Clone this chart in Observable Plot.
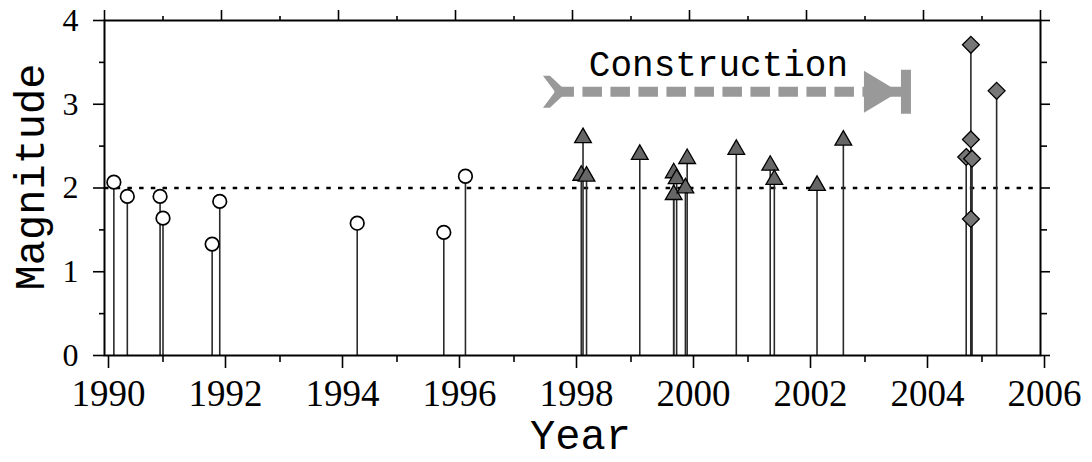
<!DOCTYPE html>
<html>
<head>
<meta charset="utf-8">
<script src="https://cdn.jsdelivr.net/npm/d3@7"></script>
<script src="https://cdn.jsdelivr.net/npm/@observablehq/plot@0.6"></script>
<style>
  html, body { margin: 0; padding: 0; background: white; }
  #chart svg { display: block; }
</style>
</head>
<body>
<div id="chart"></div>
<script>
// ---- data ----
const circleYears = [1990.16, 1990.39, 1990.95, 1991.00, 1991.84, 1991.97, 1994.32, 1995.80, 1996.17];
const circleMags  = [2.07, 1.90, 1.90, 1.64, 1.33, 1.84, 1.58, 1.47, 2.14];

const triangleYears = [1998.18, 1998.15, 1998.24, 1999.15, 1999.73, 1999.78, 1999.73, 1999.96, 1999.93, 2000.80, 2001.38, 2001.45, 2002.18, 2002.63];
const triangleMags  = [2.60, 2.15, 2.14, 2.40, 2.18, 2.11, 1.92, 2.35, 2.00, 2.46, 2.27, 2.10, 2.03, 2.57];

const diamondYears = [2004.81, 2005.25, 2004.81, 2004.73, 2004.83, 2004.81];
const diamondMags  = [3.71, 3.16, 2.58, 2.37, 2.35, 1.63];

const threshold = [2];
const constructionYears = [1997.7, 2003.7];   // start, end
const constructionLevel = [3.15];
const constructionLabel = ["Construction"];

const xDomain = [1990, 2006];
const yDomain = [0, 4];
const xLabelTicks = [1990, 1992, 1994, 1996, 1998, 2000, 2002, 2004, 2006];
const xMinorTicks = [1991, 1993, 1995, 1997, 1999, 2001, 2003, 2005];
const yLabelTicks = [0, 1, 2, 3, 4];
const yMinorTicks = [0.5, 1.5, 2.5, 3.5];
const xTitle = "Year";
const yTitle = "Magnitude";

// ---- build tables ----
const circles = circleYears.map((x, i) => ({x, m: circleMags[i]}));
const triangles = triangleYears.map((x, i) => ({x, m: triangleMags[i]}));
const diamonds = diamondYears.map((x, i) => ({x, m: diamondMags[i]}));
const allEvents = [...circles, ...triangles, ...diamonds];

// custom symbols for the construction arrow (drawn in pixel units, r = 1)
const chevron = {
  draw(ctx, size) {
    const k = Math.sqrt(size / Math.PI);
    ctx.moveTo(-12 * k, -16 * k);
    ctx.lineTo(-5 * k, -16 * k);
    ctx.lineTo(12 * k, 0);
    ctx.lineTo(-5 * k, 16 * k);
    ctx.lineTo(-12 * k, 16 * k);
    ctx.lineTo(0, 0);
    ctx.closePath();
  }
};
const arrowEnd = {
  draw(ctx, size) {
    const k = Math.sqrt(size / Math.PI);
    ctx.moveTo(-42 * k, -21 * k);
    ctx.lineTo(-7 * k, 0);
    ctx.lineTo(-42 * k, 21 * k);
    ctx.closePath();
    ctx.moveTo(-5 * k, -22 * k);
    ctx.lineTo(5 * k, -22 * k);
    ctx.lineTo(5 * k, 22 * k);
    ctx.lineTo(-5 * k, 22 * k);
    ctx.closePath();
  }
};

const serif = "'Liberation Serif', 'DejaVu Serif', serif";
const mono = "'Liberation Mono', 'DejaVu Sans Mono', monospace";
const blank = () => "";
const plain = d => String(d);

const chart = Plot.plot({
  width: 1092,
  height: 462,
  marginLeft: 104,
  marginRight: 52,
  marginTop: 20,
  marginBottom: 107,
  x: {domain: xDomain},
  y: {domain: yDomain},
  style: {background: "white", overflow: "visible"},
  marks: [
    // axes: bottom
    Plot.axisX({ticks: xLabelTicks, anchor: "bottom", tickSize: 13, tickPadding: 11, strokeWidth: 1.6,
      tickFormat: plain, fontSize: 37, fontFamily: serif, dx: 4, label: null}),
    Plot.axisX({ticks: xMinorTicks, anchor: "bottom", tickSize: 7, strokeWidth: 1.6, tickFormat: blank, label: null}),
    // axes: top
    Plot.axisX({ticks: xLabelTicks, anchor: "top", tickSize: 11, strokeWidth: 1.6, tickFormat: blank, label: null}),
    Plot.axisX({ticks: xMinorTicks, anchor: "top", tickSize: 5, strokeWidth: 1.6, tickFormat: blank, label: null}),
    // axes: left
    Plot.axisY({ticks: yLabelTicks, anchor: "left", tickSize: 11, tickPadding: 15, strokeWidth: 1.6,
      tickFormat: plain, fontSize: 32, fontFamily: serif, label: null}),
    Plot.axisY({ticks: yMinorTicks, anchor: "left", tickSize: 5, strokeWidth: 1.6, tickFormat: blank, label: null}),
    // axes: right
    Plot.axisY({ticks: yLabelTicks, anchor: "right", tickSize: 9, strokeWidth: 1.6, tickFormat: blank, label: null}),
    Plot.axisY({ticks: yMinorTicks, anchor: "right", tickSize: 6, strokeWidth: 1.6, tickFormat: blank, label: null}),

    // threshold line
    Plot.ruleY(threshold, {stroke: "black", strokeWidth: 2.6, strokeDasharray: "4.5,7.2"}),

    // stems
    Plot.ruleX(allEvents, {x: "x", y1: 0, y2: "m", stroke: "#2a2a2a", strokeWidth: 1.6}),

    // markers
    Plot.dot(circles, {x: "x", y: "m", r: 6.8, symbol: "circle", fill: "white", stroke: "black", strokeWidth: 1.7}),
    Plot.dot(triangles, {x: "x", y: "m", r: 6.2, symbol: "triangle", fill: "#666", stroke: "black", strokeWidth: 1.3}),
    Plot.dot(diamonds, {x: "x", y: "m", r: 7.6, symbol: "diamond2", fill: "#777", stroke: "black", strokeWidth: 1.3}),

    // construction arrow
    Plot.ruleY(constructionLevel, {x1: constructionYears[0], x2: constructionYears[1], stroke: "#999",
      strokeWidth: 10, strokeDasharray: "19.5,8.5"}),
    Plot.dot(constructionLevel, {x: constructionYears[0], y: d => d, r: 1, symbol: chevron, fill: "#999", stroke: "none"}),
    Plot.dot(constructionLevel, {x: constructionYears[1], y: d => d, r: 1, symbol: arrowEnd, fill: "#999", stroke: "none"}),
    Plot.text(constructionLabel, {x: (constructionYears[0] + constructionYears[1]) / 2, y: constructionLevel[0],
      dx: -12, dy: -16, lineAnchor: "bottom", fontFamily: mono, fontSize: 36, fill: "black"}),

    // frame
    Plot.frame({stroke: "black", strokeWidth: 2}),

    // axis titles
    Plot.text([yTitle], {frameAnchor: "left", dx: -74, dy: -11, rotate: -90, textAnchor: "middle", lineAnchor: "middle",
      fontFamily: mono, fontSize: 42, fill: "black"}),
    Plot.text([xTitle], {frameAnchor: "bottom", dx: 8, dy: 64, textAnchor: "middle", lineAnchor: "top",
      fontFamily: mono, fontSize: 42, fill: "black"})
  ]
});

document.getElementById("chart").appendChild(chart);
</script>
</body>
</html>
